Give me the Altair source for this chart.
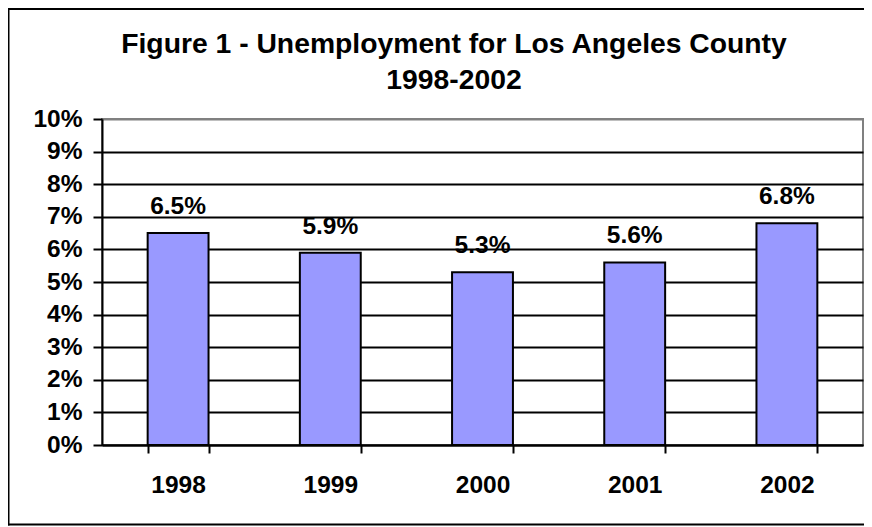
import altair as alt
import pandas as pd

years = ["1998", "1999", "2000", "2001", "2002"]
rates = [0.065, 0.059, 0.053, 0.056, 0.068]
y_ticks = [0.0, 0.01, 0.02, 0.03, 0.04, 0.05, 0.06, 0.07, 0.08, 0.09, 0.10]
title_lines = ["Figure 1 - Unemployment for Los Angeles County", "1998-2002"]

FONT = "Liberation Sans"

df = pd.DataFrame({"year": years, "rate": rates})

x_enc = alt.X(
    "year:N",
    sort=years,
    scale=alt.Scale(paddingInner=0.6, paddingOuter=0.3),
    axis=alt.Axis(
        title=None, labelAngle=0, tickBand="extent", tickSize=8, tickWidth=2,
        tickColor="black", domainColor="black", domainWidth=2,
        labelFont=FONT, labelFontSize=24.5, labelFontWeight="bold", labelColor="black",
        labelPadding=20, grid=False, labelOverlap=False,
    ),
)
y_enc = alt.Y(
    "rate:Q",
    scale=alt.Scale(domain=[0, 0.1], nice=False),
    axis=alt.Axis(
        title=None, values=y_ticks, format=".0%", tickSize=9, tickWidth=2,
        tickColor="black", domainColor="black", domainWidth=2,
        labelFont=FONT, labelFontSize=24.5, labelFontWeight="bold", labelColor="black",
        labelPadding=11, grid=True, gridWidth=2, labelOverlap=False, labelBound=False,
        gridColor={"condition": {"test": "datum.value >= 0.1", "value": "#808080"}, "value": "black"},
    ),
)

base = alt.Chart(df)
bars = base.mark_bar(color="#9999FF", stroke="black", strokeWidth=2).encode(x=x_enc, y=y_enc)
labels = base.mark_text(
    baseline="alphabetic", dy=-19, font=FONT, fontSize=24.5, fontWeight="bold", color="black"
).encode(x=x_enc, y=y_enc, text=alt.Text("rate:Q", format=".1%"))

one = pd.DataFrame({"a": [0]})
frame_top = alt.Chart(one).mark_rule(color="black", strokeWidth=2).encode(
    x=alt.value(-94.5), x2=alt.value(775), y=alt.value(-110))
frame_left = alt.Chart(one).mark_rule(color="black", strokeWidth=2).encode(
    x=alt.value(-93.5), y=alt.value(-111), y2=alt.value(406.5))
frame_bottom = alt.Chart(one).mark_rule(color="black", strokeWidth=2).encode(
    x=alt.value(-94.5), x2=alt.value(775), y=alt.value(405.5))

t1 = alt.Chart(pd.DataFrame({"t": [title_lines[0]]})).mark_text(
    font=FONT, fontSize=28.3, fontWeight="bold", color="black", align="center", baseline="alphabetic"
).encode(text="t:N", x=alt.value(352), y=alt.value(-66))
t2 = alt.Chart(pd.DataFrame({"t": [title_lines[1]]})).mark_text(
    font=FONT, fontSize=28.3, fontWeight="bold", color="black", align="center", baseline="alphabetic"
).encode(text="t:N", x=alt.value(352), y=alt.value(-30))

chart = alt.layer(bars, labels, frame_top, frame_left, frame_bottom, t1, t2).properties(
    width=761, height=326,
    padding={"left": 94, "top": 111, "right": 1, "bottom": 82},
    autosize=alt.AutoSizeParams(type="none"),
    background="white",
).configure_view(stroke="#808080", strokeWidth=2)

chart.save("out.html", embed_options={"renderer": "svg", "actions": False})
